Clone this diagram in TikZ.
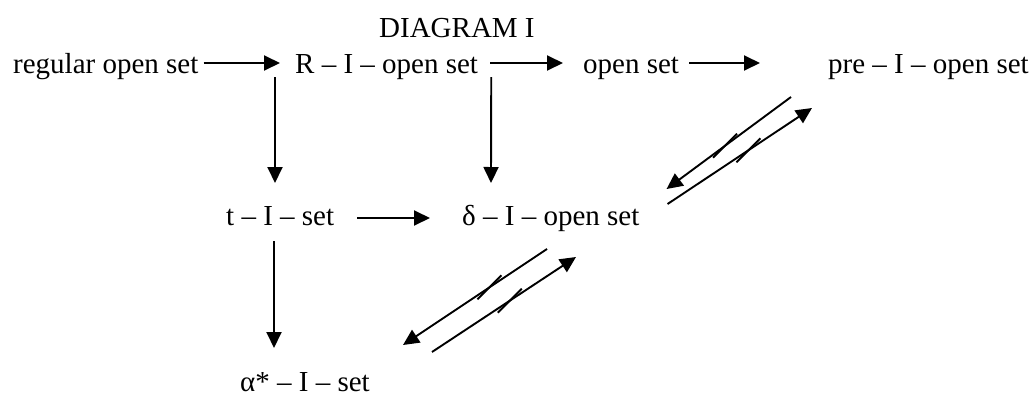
\documentclass[tikz,border=0pt]{standalone}
\usepackage{fontspec}
\setmainfont{Liberation Serif}
\usetikzlibrary{arrows.meta,calc}
\begin{document}
\begin{tikzpicture}[x=1pt,y=-1pt,
  lbl/.style={anchor=base west,inner sep=0pt,font=\fontsize{29}{34}\selectfont},
  arr/.style={line width=1.9pt,-{Triangle[length=16pt,width=15pt]}},
  slash/.style={line width=1.9pt}]
\useasboundingbox (0,0) rectangle (1034,397);
\node[lbl] (title) at (379,37) {DIAGRAM I};
\node[lbl] (reg) at (13,73) {regular open set};
\node[lbl] (rio) at (295,73) {R – I – open set};
\node[lbl] (op) at (583,73) {open set};
\node[lbl] (pre) at (828,73) {pre – I – open set};
\node[lbl] (tis) at (226,225) {t – I – set};
\node[lbl] (dis) at (462,225) {δ – I – open set};
\node[lbl] (ais) at (240,391) {α* – I – set};
% top row
\draw[arr] ([xshift=5pt,yshift=10pt]reg.base east) -- ([xshift=-15pt,yshift=10pt]rio.base west);
\draw[arr] ([xshift=12pt,yshift=10pt]rio.base east) -- ([xshift=-20pt,yshift=10pt]op.base west);
\draw[arr] ([xshift=10pt,yshift=10pt]op.base east) -- ([xshift=-68pt,yshift=10pt]pre.base west);
% verticals
\draw[arr] ([xshift=-20pt,yshift=-4pt]rio.base west) -- ([xshift=49pt,yshift=42pt]tis.base west);
\draw[arr] ([xshift=13pt,yshift=-4pt]rio.base east) -- ([xshift=29pt,yshift=42pt]dis.base west);
\draw[arr] ([xshift=48pt,yshift=-16pt]tis.base west) -- ([xshift=34pt,yshift=43pt]ais.base west);
% middle row
\draw[arr] ([xshift=23pt,yshift=7pt]tis.base east) -- ([xshift=-32pt,yshift=7pt]dis.base west);
% top diagonals
\draw[arr] ([xshift=-37pt,yshift=-24pt]pre.base west) -- ([xshift=27pt,yshift=36pt]dis.base east)
  coordinate[pos=0.53] (s1);
\draw[arr] ([xshift=28pt,yshift=21pt]dis.base east) -- ([xshift=-16pt,yshift=-35pt]pre.base west)
  coordinate[pos=0.56] (s2);
% bottom diagonals
\draw[arr] ([xshift=85pt,yshift=-24pt]dis.base west) -- ([xshift=163pt,yshift=46pt]ais.base west)
  coordinate[pos=0.40] (s3);
\draw[arr] ([xshift=192pt,yshift=39pt]ais.base west) -- ([xshift=114pt,yshift=-32pt]dis.base west)
  coordinate[pos=0.54] (s4);
% negation slashes
\foreach \s in {s1,s2,s3,s4}{
  \draw[slash] ($(\s)+(-12,12)$) -- ($(\s)+(12,-12)$);
}
\end{tikzpicture}
\end{document}
